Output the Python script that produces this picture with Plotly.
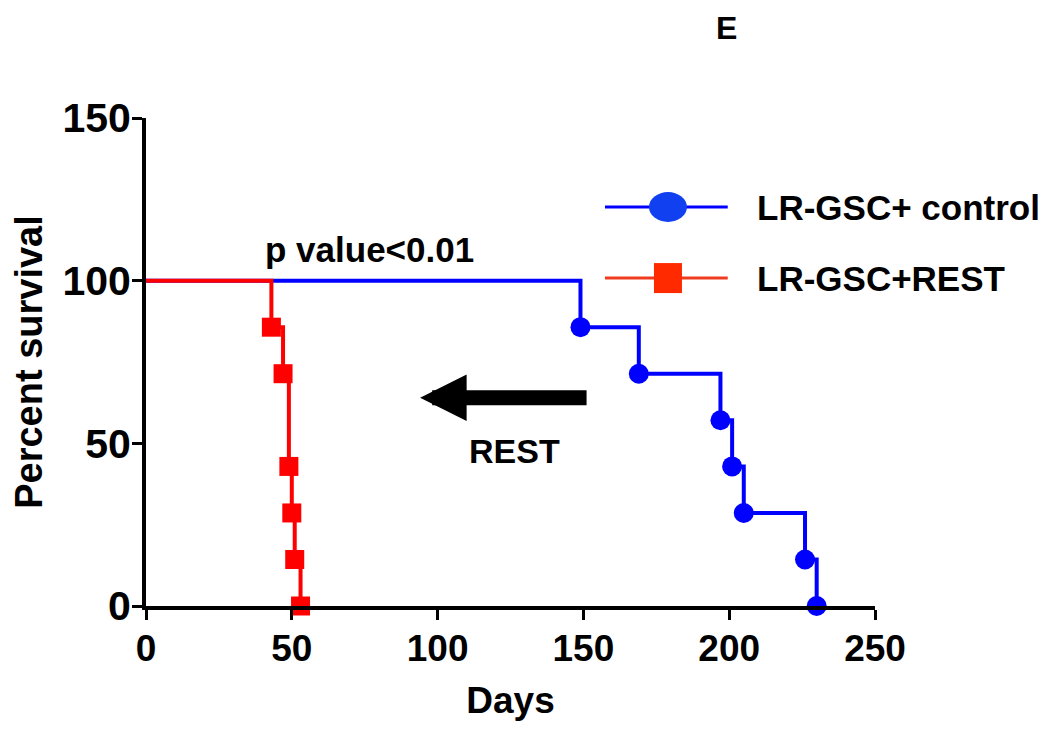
import plotly.graph_objects as go

# Kaplan-Meier step data (days, percent survival)
control_days = [0, 149, 169, 197, 201, 205, 226, 230]
control_surv = [100, 85.7, 71.4, 57.1, 42.9, 28.6, 14.3, 0]
rest_days = [0, 43, 47, 49, 50, 51, 53]
rest_surv = [100, 85.7, 71.4, 42.9, 28.6, 14.3, 0]

x_ticks = [0, 50, 100, 150, 200, 250]
y_ticks = [0, 50, 100, 150]

BLUE = "#0000ff"
RED = "#ff0000"
FONT = "Liberation Sans, Arial, sans-serif"

fig = go.Figure()

# Control group (blue circles)
fig.add_trace(go.Scatter(x=control_days, y=control_surv, mode="lines",
                         line=dict(color=BLUE, width=4, shape="hv"),
                         cliponaxis=False, showlegend=False))
fig.add_trace(go.Scatter(x=control_days[1:], y=control_surv[1:], mode="markers",
                         marker=dict(color=BLUE, size=20, symbol="circle"),
                         cliponaxis=False, showlegend=False))
# REST group (red squares)
fig.add_trace(go.Scatter(x=rest_days, y=rest_surv, mode="lines",
                         line=dict(color=RED, width=4, shape="hv"),
                         cliponaxis=False, showlegend=False))
fig.add_trace(go.Scatter(x=rest_days[1:], y=rest_surv[1:], mode="markers",
                         marker=dict(color=RED, size=19, symbol="square"),
                         cliponaxis=False, showlegend=False))

axis_common = dict(
    showline=True, linecolor="black", linewidth=4,
    ticks="outside", ticklen=10, tickwidth=3, tickcolor="black",
    showgrid=False, zeroline=False,
)

fig.update_xaxes(range=[0, 250], tickvals=x_ticks, **axis_common,
                 tickfont=dict(family=FONT, size=37, color="black", weight="bold"),
                 ticklabelstandoff=-3,
                 title=dict(text="Days", font=dict(family=FONT, size=37, color="black", weight="bold"),
                            standoff=20))
fig.update_yaxes(range=[0, 150], tickvals=y_ticks, **axis_common,
                 tickfont=dict(family=FONT, size=41, color="black", weight="bold"),
                 ticklabelstandoff=-7,
                 title=dict(text="Percent survival", font=dict(family=FONT, size=38, color="black", weight="bold"),
                            standoff=14))

# Text annotations
fig.add_annotation(x=76.8, y=109.7, xref="x", yref="y", text="p value<0.01", showarrow=False,
                   font=dict(family=FONT, size=35, color="black", weight="bold"))
fig.add_annotation(x=126.5, y=47.6, xref="x", yref="y", text="REST", showarrow=False,
                   font=dict(family=FONT, size=34, color="black", weight="bold"))
fig.add_annotation(x=0.796, y=1.2254, xref="paper", yref="paper", xanchor="center", yanchor="top",
                   text="E", showarrow=False,
                   font=dict(family=FONT, size=32, color="black", weight="bold"))

# Arrow (pointing left)
fig.add_annotation(x=94, y=64, ax=151.6, ay=64, xref="x", yref="y", axref="x", ayref="y",
                   text="", showarrow=True, arrowhead=2, arrowsize=0.62, arrowwidth=15,
                   arrowcolor="black", standoff=0, startstandoff=0)

# Manual legend
legend_items = [
    ("LR-GSC+ control", BLUE, "#1040f0", "circle", 0.8176),
    ("LR-GSC+REST", "#f03c1e", "#ff2a00", "square", 0.672),
]
for label, lcol, mcol, sym, ly in legend_items:
    fig.add_shape(type="line", xref="paper", yref="paper", x0=0.6296, x1=0.798, y0=ly, y1=ly,
                  line=dict(color=lcol, width=3))
    if sym == "circle":
        fig.add_shape(type="circle", xref="paper", yref="paper", xsizemode="pixel", ysizemode="pixel",
                      xanchor=0.716, yanchor=ly, x0=-19, x1=19, y0=-15, y1=15,
                      fillcolor=mcol, line=dict(width=0))
    else:
        fig.add_shape(type="rect", xref="paper", yref="paper", xsizemode="pixel", ysizemode="pixel",
                      xanchor=0.716, yanchor=ly, x0=-14, x1=14, y0=-15, y1=15,
                      fillcolor=mcol, line=dict(width=0))
    fig.add_annotation(x=0.835, y=ly, xref="paper", yref="paper", xanchor="left", yanchor="middle",
                       text=label, showarrow=False,
                       font=dict(family=FONT, size=35, color="black", weight="bold"))

# The page body adds an 8px margin, so the figure is sized to fit the window
fig.update_layout(
    width=1042, height=722,
    margin=dict(l=138, r=175, t=110, b=124),
    plot_bgcolor="white", paper_bgcolor="white",
    showlegend=False,
)

fig.write_html("out.html")
